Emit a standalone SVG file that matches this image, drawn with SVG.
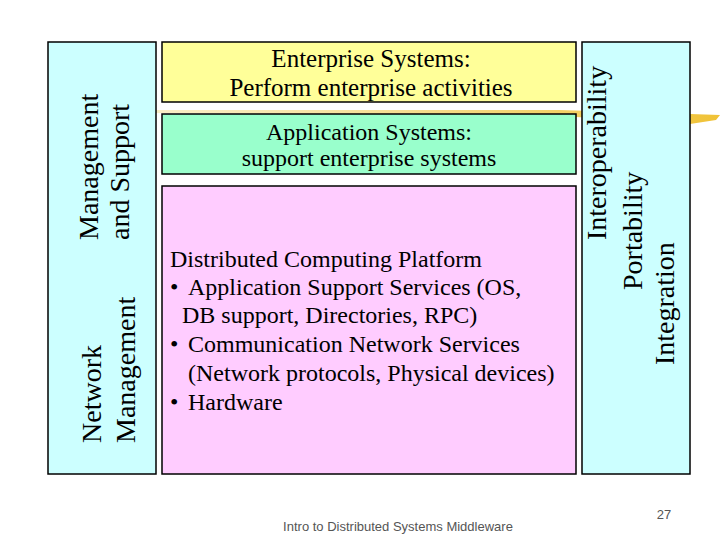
<svg xmlns="http://www.w3.org/2000/svg" width="720" height="540" viewBox="0 0 720 540">
<defs>
<linearGradient id="brush" x1="0" y1="0" x2="1" y2="0">
<stop offset="0" stop-color="#F6DE90" stop-opacity="0.5"/>
<stop offset="0.55" stop-color="#F2CF60" stop-opacity="0.8"/>
<stop offset="1" stop-color="#F0C236"/>
</linearGradient>
<style>
.box{stroke:#000;stroke-width:1.5}
.cyan{fill:#CCFFFF}
.t{font-family:"Liberation Serif","Times New Roman",serif;font-size:24px;fill:#000}
.t25{font-family:"Liberation Serif","Times New Roman",serif;font-size:25px;fill:#000}
.v{font-family:"Liberation Serif","Times New Roman",serif;font-size:28px;fill:#000}
.foot{font-family:"Liberation Sans",Arial,sans-serif;font-size:13px;fill:#555}
</style>
</defs>
<rect width="720" height="540" fill="#fff"/>
<path d="M150,110 L560,110 L690,114 L720,115 L716,120 L690,124 L560,116 L150,113 Z" fill="url(#brush)"/>
<g id="left-panel">
<rect class="box cyan" x="48" y="42" width="108" height="432"/>
<text class="v" transform="translate(98,240) rotate(-90)">Management</text>
<text class="v" transform="translate(129,240) rotate(-90)">and Support</text>
<text class="v" transform="translate(101,443) rotate(-90)">Network</text>
<text class="v" transform="translate(135,443) rotate(-90)">Management</text>
</g>
<g id="enterprise">
<rect class="box" x="162" y="42" width="414" height="60" fill="#FFFF99"/>
<text class="t25" x="371" y="67" text-anchor="middle">Enterprise Systems:</text>
<text class="t25" x="371" y="96" text-anchor="middle">Perform enterprise activities</text>
</g>
<g id="application">
<rect class="box" x="162" y="114" width="414" height="60" fill="#99FFCC"/>
<text class="t" x="369" y="140" text-anchor="middle">Application Systems:</text>
<text class="t" x="369" y="166" text-anchor="middle">support enterprise systems</text>
</g>
<g id="platform">
<rect class="box" x="162" y="186" width="414" height="288" fill="#FFCCFF"/>
<text class="t" x="170" y="267">Distributed Computing Platform</text>
<text class="t" x="170" y="295">•</text>
<text class="t" x="188" y="295">Application Support Services (OS,</text>
<text class="t" x="182" y="323">DB support, Directories, RPC)</text>
<text class="t" x="170" y="352">•</text>
<text class="t" x="188" y="352">Communication Network Services</text>
<text class="t" x="188" y="381">(Network protocols, Physical devices)</text>
<text class="t" x="170" y="410">•</text>
<text class="t" x="188" y="410">Hardware</text>
</g>
<g id="right-panel">
<rect class="box cyan" x="582" y="42" width="108" height="432"/>
<text class="v" transform="translate(606,240) rotate(-90)">Interoperability</text>
<text class="v" transform="translate(642,290) rotate(-90)">Portability</text>
<text class="v" transform="translate(674,365) rotate(-90)">Integration</text>
</g>
<g id="connectors"></g>
<text class="foot" x="398" y="531" text-anchor="middle">Intro to Distributed Systems Middleware</text>
<text class="foot" x="664" y="519" text-anchor="middle">27</text>
</svg>
